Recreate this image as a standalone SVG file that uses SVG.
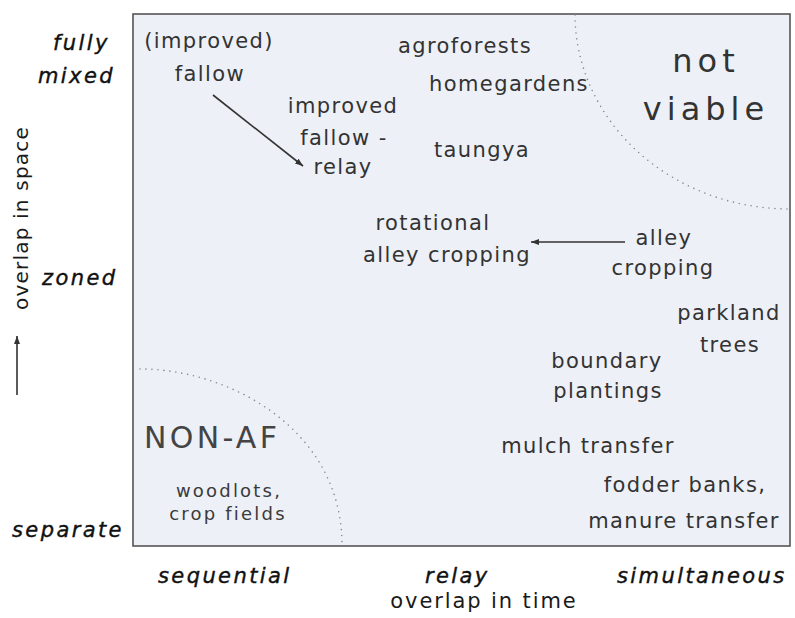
<svg xmlns="http://www.w3.org/2000/svg" width="795" height="618" viewBox="0 0 795 618">
  <defs>
    <marker id="ah" markerUnits="userSpaceOnUse" markerWidth="10" markerHeight="8" refX="8" refY="3" orient="auto">
      <path d="M0,0 L8,3 L0,6 z" fill="#333"/>
    </marker>
    <style>
      .lbl { font-family: "DejaVu Sans", "Liberation Sans", sans-serif; font-size: 21px; fill: #333; letter-spacing: 1.4px; text-anchor: middle; }
      .big { font-family: "DejaVu Sans", "Liberation Sans", sans-serif; font-size: 32px; fill: #333; letter-spacing: 5px; text-anchor: middle; }
      .nonaf { font-family: "DejaVu Sans", "Liberation Sans", sans-serif; font-size: 30px; fill: #444; letter-spacing: 3.3px; }
      .small { font-family: "DejaVu Sans", "Liberation Sans", sans-serif; font-size: 18px; fill: #3a3a3a; letter-spacing: 2.2px; text-anchor: middle; }
      .ax { font-family: "DejaVu Sans", "Liberation Sans", sans-serif; font-size: 21px; font-style: oblique; fill: #111; stroke: #111; stroke-width: 0.4; letter-spacing: 2.4px; }
      .axt { font-family: "DejaVu Sans", "Liberation Sans", sans-serif; font-size: 20px; fill: #1a1a1a; letter-spacing: 1.2px; text-anchor: middle; }
      .dot { fill: none; stroke: #8a8a8a; stroke-width: 1.6; stroke-linecap: round; stroke-dasharray: 0 6; }
      .conn { stroke: #333; stroke-width: 1.6; fill: none; }
    </style>
  </defs>
  <rect width="795" height="618" fill="#ffffff"/>

  <g id="frame">
    <rect x="133" y="14" width="657" height="532" fill="#edf0f6" stroke="#555" stroke-width="1.6"/>
    <path class="dot" d="M575 15 A215 195 0 0 0 789 209"/>
    <path class="dot" d="M140 369 C230 369 342 430 342 545"/>
  </g>

  <g id="axis-y">
    <text class="ax" x="53" y="50">fully</text>
    <text class="ax" x="38" y="83">mixed</text>
    <text class="ax" x="42" y="285">zoned</text>
    <text class="ax" x="12" y="537">separate</text>
    <text class="axt" transform="translate(28,218) rotate(-90)">overlap in space</text>
  </g>

  <g id="axis-x">
    <text class="ax" x="158" y="583">sequential</text>
    <text class="ax" x="425" y="583">relay</text>
    <text class="ax" x="617" y="583">simultaneous</text>
    <text class="axt" x="484" y="608" style="font-size:21px;letter-spacing:1.9px">overlap in time</text>
  </g>

  <g id="connectors">
    <line class="conn" x1="17" y1="395" x2="17" y2="336" stroke-width="2" marker-end="url(#ah)"/>
    <line class="conn" x1="213" y1="95" x2="303" y2="166" marker-end="url(#ah)"/>
    <line class="conn" x1="625" y1="242" x2="531" y2="242" marker-end="url(#ah)"/>
  </g>

  <g id="improved-fallow">
    <text class="lbl" x="209" y="48">(improved)</text>
    <text class="lbl" x="210" y="81">fallow</text>
  </g>
  <g id="improved-fallow-relay">
    <text class="lbl" x="343" y="113">improved</text>
    <text class="lbl" x="344" y="145">fallow -</text>
    <text class="lbl" x="343" y="174">relay</text>
  </g>
  <g id="agroforests">
    <text class="lbl" x="465" y="53">agroforests</text>
  </g>
  <g id="homegardens">
    <text class="lbl" x="509" y="91">homegardens</text>
  </g>
  <g id="taungya">
    <text class="lbl" x="482" y="157">taungya</text>
  </g>
  <g id="not-viable">
    <text class="big" x="706" y="72">not</text>
    <text class="big" x="706" y="120">viable</text>
  </g>
  <g id="rotational-alley-cropping">
    <text class="lbl" x="433" y="230">rotational</text>
    <text class="lbl" x="447" y="262">alley cropping</text>
  </g>
  <g id="alley-cropping">
    <text class="lbl" x="664" y="245">alley</text>
    <text class="lbl" x="663" y="275">cropping</text>
  </g>
  <g id="parkland-trees">
    <text class="lbl" x="729" y="320">parkland</text>
    <text class="lbl" x="730" y="352">trees</text>
  </g>
  <g id="boundary-plantings">
    <text class="lbl" x="607" y="368">boundary</text>
    <text class="lbl" x="608" y="398">plantings</text>
  </g>
  <g id="mulch-transfer">
    <text class="lbl" x="588" y="453">mulch transfer</text>
  </g>
  <g id="fodder-banks">
    <text class="lbl" x="685" y="492">fodder banks,</text>
    <text class="lbl" x="684" y="528">manure transfer</text>
  </g>
  <g id="non-af">
    <text class="nonaf" x="144" y="448">NON-AF</text>
  </g>
  <g id="woodlots">
    <text class="small" x="229" y="497">woodlots,</text>
    <text class="small" x="228" y="520">crop fields</text>
  </g>
</svg>
